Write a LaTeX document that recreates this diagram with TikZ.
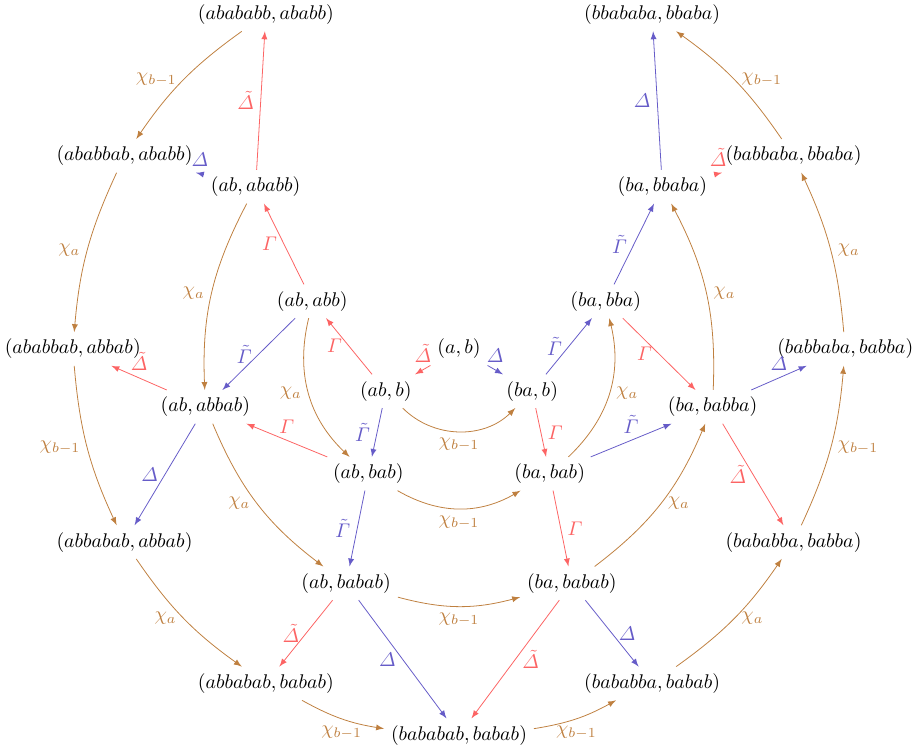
\documentclass[tikz,border=0pt]{standalone}
\usepackage{amsmath}
\usetikzlibrary{arrows}

\definecolor{gamred}{RGB}{252,100,100}
\definecolor{delblue}{RGB}{102,92,200}
\definecolor{chibrown}{RGB}{191,128,64}

\tikzset{
  redarr/.style={color=gamred,-latex},
  bluearr/.style={color=delblue,-latex},
  chiarr/.style={color=chibrown,-latex},
}

\begin{document}
\begin{tikzpicture}
  \useasboundingbox (-8.152,-7.068) rectangle (8.188,6.198);
  % centre and first two rings
  \node (a-b) at (0,0) {$(a,b)$};
  \node (ab-b) at (210:1.5) {$(ab,b)$};
  \node (ba-b) at (330:1.5) {$(ba,b)$};
  \node (ab-abb) at (162:2.74) {$(ab,abb)$};
  \node (ab-bab) at (234:2.74) {$(ab,bab)$};
  \node (ba-bab) at (306:2.74) {$(ba,bab)$};
  \node (ba-bba) at (18:2.74) {$(ba,bba)$};
  % third ring
  \node (ab-ababb) at (141.43:4.62) {$(ab,ababb)$};
  \node (ab-abbab) at (192.86:4.62) {$(ab,abbab)$};
  \node (ab-babab) at (244.29:4.62) {$(ab,babab)$};
  \node (ba-babab) at (295.71:4.62) {$(ba,babab)$};
  \node (ba-babba) at (347.14:4.62) {$(ba,babba)$};
  \node (ba-bbaba) at (38.57:4.62) {$(ba,bbaba)$};
  % outer ring
  \node (abababb-ababb) at (120:6.86) {$(abababb,ababb)$};
  \node (ababbab-ababb) at (150:6.86) {$(ababbab,ababb)$};
  \node (ababbab-abbab) at (180:6.86) {$(ababbab,abbab)$};
  \node (abbabab-abbab) at (210:6.86) {$(abbabab,abbab)$};
  \node (abbabab-babab) at (240:6.86) {$(abbabab,babab)$};
  \node (bababab-babab) at (270:6.86) {$(bababab,babab)$};
  \node (bababba-babab) at (300:6.86) {$(bababba,babab)$};
  \node (bababba-babba) at (330:6.86) {$(bababba,babba)$};
  \node (babbaba-babba) at (0:6.86) {$(babbaba,babba)$};
  \node (babbaba-bbaba) at (30:6.86) {$(babbaba,bbaba)$};
  \node (bbababa-bbaba) at (60:6.86) {$(bbababa,bbaba)$};

  % Delta and Gamma moves
  \draw[redarr] (a-b) -- node[above] {$\tilde{\varDelta}$} (ab-b);
  \draw[bluearr] (a-b) -- node[above] {$\varDelta$} (ba-b);
  \draw[redarr] (ab-b) -- node[left] {$\varGamma$} (ab-abb);
  \draw[bluearr] (ab-b) -- node[left] {$\tilde{\varGamma}$} (ab-bab);
  \draw[redarr] (ba-b) -- node[right] {$\varGamma$} (ba-bab);
  \draw[bluearr] (ba-b) -- node[left] {$\tilde{\varGamma}$} (ba-bba);
  \draw[redarr] (ab-bab) -- node[above] {$\varGamma$} (ab-abbab);
  \draw[bluearr] (ab-bab) -- node[left] {$\tilde{\varGamma}$} (ab-babab);
  \draw[bluearr] (ab-abb) -- node[left] {$\tilde{\varGamma}$} (ab-abbab);
  \draw[redarr] (ab-abb) -- node[left] {$\varGamma$} (ab-ababb);
  \draw[redarr] (ab-ababb) -- node[left] {$\tilde{\varDelta}$} (abababb-ababb);
  \draw[bluearr] (ab-ababb) -- node[above] {$\varDelta$} (ababbab-ababb);
  \draw[redarr] (ab-abbab) -- node[above] {$\tilde{\varDelta}$} (ababbab-abbab);
  \draw[bluearr] (ab-abbab) -- node[left] {$\varDelta$} (abbabab-abbab);
  \draw[redarr] (ab-babab) -- node[left] {$\tilde{\varDelta}$} (abbabab-babab);
  \draw[bluearr] (ab-babab) -- node[left] {$\varDelta$} (bababab-babab);
  \draw[redarr] (ba-bab) -- node[right] {$\varGamma$} (ba-babab);
  \draw[bluearr] (ba-bab) -- node[above] {$\tilde{\varGamma}$} (ba-babba);
  \draw[redarr] (ba-bba) -- node[left] {$\varGamma$} (ba-babba);
  \draw[bluearr] (ba-bba) -- node[left] {$\tilde{\varGamma}$} (ba-bbaba);
  \draw[redarr] (ba-babba) -- node[left] {$\tilde{\varDelta}$} (bababba-babba);
  \draw[bluearr] (ba-babba) -- node[above] {$\varDelta$} (babbaba-babba);
  \draw[redarr] (ba-babab) -- node[right] {$\tilde{\varDelta}$} (bababab-babab);
  \draw[bluearr] (ba-babab) -- node[right] {$\varDelta$} (bababba-babab);
  \draw[bluearr] (ba-bbaba) -- node[left] {$\varDelta$} (bbababa-bbaba);
  \draw[redarr] (ba-bbaba) -- node[above] {$\tilde{\varDelta}$} (babbaba-bbaba);

  % chi moves, going round each ring
  \draw[chiarr] (ab-b) to[bend right=45] node[below] {$\chi_{b-1}$} (ba-b);
  \draw[chiarr] (ab-abb) to[bend right=30] node[left] {$\chi_a$} (ab-bab);
  \draw[chiarr] (ab-bab) to[bend right=30] node[below] {$\chi_{b-1}$} (ba-bab);
  \draw[chiarr] (ba-bab) to[bend right=30] node[right] {$\chi_a$} (ba-bba);
  \draw[chiarr] (ab-ababb) to[bend right=15] node[left] {$\chi_a$} (ab-abbab);
  \draw[chiarr] (ab-abbab) to[bend right=15] node[left] {$\chi_a$} (ab-babab);
  \draw[chiarr] (ab-babab) to[bend right=15] node[below] {$\chi_{b-1}$} (ba-babab);
  \draw[chiarr] (ba-babab) to[bend right=15] node[right] {$\chi_a$} (ba-babba);
  \draw[chiarr] (ba-babba) to[bend right=15] node[right] {$\chi_a$} (ba-bbaba);
  \draw[chiarr] (abababb-ababb) to[bend right=10] node[left] {$\chi_{b-1}$} (ababbab-ababb);
  \draw[chiarr] (ababbab-ababb) to[bend right=10] node[left] {$\chi_a$} (ababbab-abbab);
  \draw[chiarr] (ababbab-abbab) to[bend right=10] node[left] {$\chi_{b-1}$} (abbabab-abbab);
  \draw[chiarr] (abbabab-abbab) to[bend right=10] node[left] {$\chi_a$} (abbabab-babab);
  \draw[chiarr] (abbabab-babab) to[bend right=10] node[below] {$\chi_{b-1}$} (bababab-babab);
  \draw[chiarr] (bababab-babab) to[bend right=10] node[below] {$\chi_{b-1}$} (bababba-babab);
  \draw[chiarr] (bababba-babab) to[bend right=10] node[right] {$\chi_a$} (bababba-babba);
  \draw[chiarr] (bababba-babba) to[bend right=10] node[right] {$\chi_{b-1}$} (babbaba-babba);
  \draw[chiarr] (babbaba-babba) to[bend right=10] node[right] {$\chi_a$} (babbaba-bbaba);
  \draw[chiarr] (babbaba-bbaba) to[bend right=10] node[right] {$\chi_{b-1}$} (bbababa-bbaba);
\end{tikzpicture}
\end{document}
